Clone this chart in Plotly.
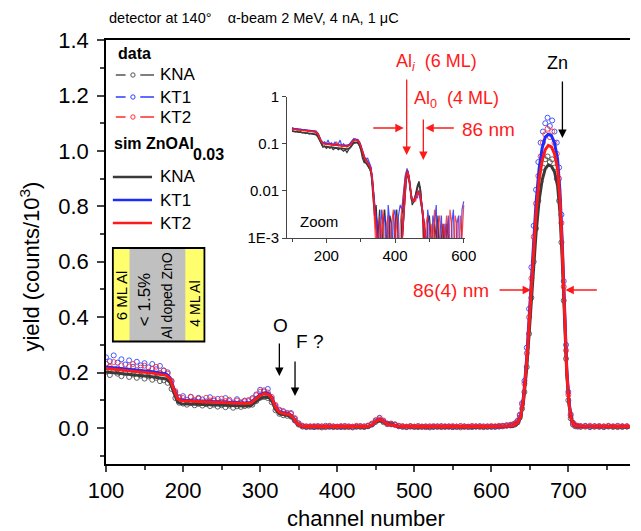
import plotly.graph_objects as go

# ---------------- main spectrum data (channel, yield in counts/10^3) ----------------
channels = [100,105,110,115,120,125,130,135,140,145,150,155,160,165,170,175,180,
            185,190,195,200,205,210,215,220,225,230,235,240,245,250,255,260,265,270,275,
            280,285,290,295,300,305,310,315,320,325,330,335,340,345,350,355,360,
            365,370,375,380,385,390,395,400,405,410,415,420,425,430,435,
            440,445,450,455,460,465,470,475,480,485,
            490,495,500,505,510,515,520,525,530,535,540,545,550,555,560,565,570,575,580,585,590,595,600,
            605,610,615,620,625,
            628,631,634,637,640,643,646,649,652,655,658,661,664,667,670,673,676,679,682,685,688,691,694,697,700,703,706,709,712,
            716,722,728,734,740,746,752,758,764,770,776]

data_KT2 = [0.232,0.221,0.238,0.215,0.226,0.204,0.222,0.231,0.209,0.218,0.225,0.203,0.214,0.221,0.199,0.208,0.196,
            0.171,0.133,0.112,0.108,0.094,0.113,0.101,0.106,0.092,0.109,0.099,0.104,0.090,0.106,0.097,0.102,0.088,0.099,0.093,
            0.096,0.101,0.104,0.118,0.131,0.136,0.128,0.112,0.083,0.066,0.058,0.055,0.051,0.036,0.016,0.008,0.006,
            0.005,0.007,0.004,0.006,0.003,0.008,0.005,0.004,0.007,0.006,0.004,0.005,0.008,0.006,0.005,
            0.009,0.016,0.028,0.035,0.027,0.015,0.014,0.011,0.008,0.006,
            0.005,0.007,0.004,0.006,0.005,0.003,0.006,0.007,0.004,0.005,0.006,0.004,0.007,0.005,0.006,0.004,0.005,0.007,0.006,0.005,0.004,0.006,0.007,
            0.006,0.008,0.007,0.009,0.012,
            0.013,0.016,0.024,0.045,0.085,0.16,0.27,0.40,0.54,0.69,0.81,0.91,0.98,1.03,1.06,1.08,1.05,1.07,1.03,0.99,0.90,0.74,0.51,0.28,0.12,0.045,0.017,0.010,0.008,
            0.007,0.006,0.008,0.005,0.007,0.006,0.008,0.005,0.006,0.007,0.006]

data_KT1 = [0.255,0.241,0.262,0.236,0.248,0.229,0.244,0.221,0.239,0.226,0.234,0.219,0.231,0.212,0.224,0.207,0.201,
            0.168,0.128,0.109,0.115,0.101,0.112,0.098,0.109,0.103,0.096,0.111,0.099,0.105,0.094,0.108,0.097,0.092,0.104,0.091,
            0.099,0.097,0.108,0.121,0.138,0.132,0.141,0.106,0.079,0.063,0.061,0.052,0.054,0.033,0.017,0.007,0.005,
            0.006,0.004,0.007,0.005,0.008,0.004,0.006,0.005,0.003,0.007,0.006,0.004,0.005,0.007,0.006,
            0.008,0.014,0.027,0.037,0.025,0.016,0.013,0.012,0.007,0.006,
            0.004,0.006,0.005,0.007,0.004,0.006,0.005,0.004,0.006,0.007,0.005,0.006,0.004,0.005,0.007,0.006,0.004,0.006,0.005,0.007,0.006,0.005,0.004,
            0.005,0.006,0.008,0.010,0.011,
            0.012,0.017,0.026,0.048,0.09,0.17,0.29,0.43,0.58,0.73,0.86,0.96,1.03,1.07,1.10,1.12,1.09,1.11,1.07,1.03,0.94,0.77,0.53,0.30,0.13,0.05,0.019,0.010,0.007,
            0.006,0.008,0.005,0.007,0.006,0.005,0.007,0.006,0.008,0.005,0.006]

data_KNA = [0.203,0.191,0.208,0.196,0.187,0.199,0.184,0.193,0.181,0.189,0.178,0.186,0.174,0.181,0.169,0.172,0.163,
            0.141,0.108,0.091,0.088,0.084,0.090,0.082,0.087,0.081,0.086,0.079,0.084,0.077,0.082,0.075,0.081,0.073,0.078,0.076,
            0.079,0.081,0.084,0.097,0.109,0.112,0.108,0.093,0.064,0.051,0.046,0.044,0.041,0.027,0.012,0.005,0.003,
            0.004,0.003,0.005,0.002,0.004,0.006,0.003,0.004,0.005,0.003,0.004,0.002,0.005,0.004,0.003,
            0.006,0.012,0.022,0.029,0.021,0.014,0.016,0.013,0.006,0.004,
            0.003,0.005,0.004,0.003,0.005,0.004,0.002,0.004,0.005,0.003,0.004,0.005,0.003,0.004,0.002,0.005,0.004,0.003,0.005,0.004,0.003,0.004,0.005,
            0.004,0.005,0.006,0.008,0.009,
            0.010,0.013,0.020,0.038,0.07,0.13,0.22,0.34,0.47,0.60,0.72,0.82,0.89,0.94,0.97,0.98,0.96,0.97,0.94,0.90,0.82,0.67,0.46,0.25,0.10,0.035,0.012,0.006,0.005,
            0.004,0.005,0.003,0.005,0.004,0.003,0.005,0.004,0.003,0.004,0.005]

# ---------------- simulations ----------------
sim_ch = [100,120,140,160,178,183,188,193,198,220,250,280,288,294,300,306,312,316,320,325,
          332,338,343,348,353,360,440,446,451,456,461,466,470,474,480,490,600,628,634,638,
          642,646,650,654,658,662,666,670,674,678,682,686,689,692,695,698,701,704,708,715,780]
sim_KT2 = [0.215,0.210,0.204,0.198,0.190,0.178,0.140,0.105,0.098,0.096,
           0.092,0.088,0.090,0.104,0.118,0.124,0.120,0.103,0.075,0.057,
           0.051,0.049,0.036,0.016,0.007,0.005,0.005,0.012,0.026,0.031,
           0.022,0.013,0.012,0.010,0.006,0.005,0.005,0.008,0.018,0.040,
           0.110,0.240,0.410,0.600,0.770,0.895,0.965,1.005,1.020,1.015,
           0.990,0.935,0.830,0.650,0.410,0.200,0.085,0.030,0.010,0.006,0.005]
sim_KT1 = [0.220,0.215,0.209,0.203,0.195,0.182,0.143,0.107,0.100,0.098,
           0.094,0.090,0.092,0.107,0.121,0.127,0.123,0.105,0.077,0.059,
           0.053,0.050,0.037,0.016,0.007,0.005,0.005,0.012,0.027,0.032,
           0.023,0.014,0.012,0.010,0.006,0.005,0.005,0.008,0.019,0.042,
           0.118,0.255,0.435,0.635,0.810,0.935,1.010,1.050,1.060,1.055,
           1.030,0.970,0.860,0.675,0.425,0.210,0.090,0.032,0.011,0.006,0.005]
sim_KNA = [0.202,0.197,0.191,0.185,0.177,0.165,0.128,0.093,0.087,0.085,
           0.082,0.079,0.081,0.094,0.106,0.112,0.109,0.093,0.067,0.051,
           0.046,0.044,0.032,0.014,0.006,0.004,0.004,0.011,0.023,0.027,
           0.020,0.014,0.015,0.012,0.005,0.004,0.004,0.007,0.016,0.036,
           0.100,0.215,0.375,0.545,0.700,0.820,0.895,0.935,0.950,0.945,
           0.925,0.875,0.780,0.610,0.385,0.190,0.080,0.028,0.009,0.005,0.004]

# ---------------- inset (log zoom) ----------------
inset_ch = [100,105,110,115,120,125,130,135,140,145,150,155,160,165,170,175,180,185,190,195,
            200,205,210,215,220,225,230,235,240,245,250,255,260,265,270,275,280,285,290,295,
            300,305,310,315,320,325,330,335,340,345,350,355,360,365,370,375,380,385,390,395,
            400,405,410,415,420,425,430,435,440,445,450,455,460,465,470,475,480,485,490,495,
            500,505,510,515,520,525,530,535,540,545,550,555,560,565,570,575,580,585,590,595,600]
inset_KT2 = [0.21,0.20,0.21,0.195,0.205,0.19,0.20,0.19,0.195,0.185,
             0.19,0.18,0.185,0.175,0.18,0.165,0.14,0.11,0.10,0.105,
             0.095,0.10,0.105,0.09,0.10,0.095,0.11,0.09,0.095,0.085,
             0.09,0.095,0.085,0.09,0.10,0.115,0.125,0.12,0.125,0.11,
             0.085,0.06,0.045,0.05,0.04,0.035,0.03,0.012,0.004,0.002,
             0.0001,0.003,0.001,0.004,0.0001,0.002,0.003,0.0001,0.002,0.004,
             0.001,0.003,0.0001,0.002,0.005,0.009,0.02,0.028,0.022,0.011,
             0.006,0.007,0.006,0.009,0.009,0.006,0.003,0.0001,0.002,0.003,
             0.0001,0.002,0.001,0.004,0.0001,0.002,0.003,0.0001,0.002,0.001,
             0.003,0.0001,0.004,0.002,0.0001,0.003,0.002,0.0001,0.003,0.001,
             0.005]
inset_KT1 = [0.22,0.215,0.205,0.21,0.20,0.205,0.195,0.20,0.19,0.195,
             0.185,0.19,0.18,0.185,0.175,0.16,0.13,0.115,0.105,0.11,
             0.10,0.12,0.095,0.105,0.09,0.11,0.095,0.10,0.12,0.09,
             0.10,0.09,0.095,0.095,0.105,0.12,0.13,0.125,0.12,0.105,
             0.09,0.065,0.05,0.045,0.05,0.04,0.032,0.015,0.005,0.003,
             0.002,0.0001,0.004,0.002,0.003,0.0001,0.005,0.002,0.0001,0.003,
             0.004,0.0001,0.003,0.005,0.004,0.01,0.022,0.03,0.02,0.01,
             0.007,0.006,0.008,0.007,0.01,0.005,0.004,0.002,0.0001,0.004,
             0.002,0.0001,0.003,0.002,0.005,0.0001,0.001,0.003,0.0001,0.002,
             0.001,0.003,0.0001,0.002,0.004,0.0001,0.002,0.003,0.0001,0.004,
             0.006]
inset_KNA = [0.19,0.185,0.18,0.185,0.175,0.18,0.17,0.175,0.165,0.17,
             0.16,0.165,0.16,0.155,0.155,0.14,0.115,0.095,0.085,0.09,
             0.08,0.085,0.08,0.085,0.075,0.08,0.08,0.075,0.08,0.075,
             0.07,0.075,0.065,0.075,0.085,0.10,0.11,0.105,0.11,0.095,
             0.075,0.05,0.04,0.04,0.035,0.03,0.025,0.01,0.003,0.005,
             0.001,0.004,0.0001,0.002,0.004,0.001,0.0001,0.003,0.002,0.0001,
             0.002,0.004,0.001,0.0001,0.003,0.006,0.018,0.026,0.02,0.009,
             0.005,0.006,0.009,0.013,0.016,0.01,0.003,0.001,0.0001,0.002,
             0.003,0.001,0.0001,0.002,0.001,0.003,0.0001,0.001,0.002,0.0001,
             0.002,0.001,0.0001,0.001,0.0001,0.001,0.0001,0.001,0.0001,0.001,
             0.0001]
inset_sim_ch = [100,170,176,183,190,260,270,278,285,292,298,305,312,320,328,333,338,342,346,350,
                420,428,432,437,442,448,455,462,468,472,478,484,490,600]
inset_sim_KT2 = [0.205,0.18,0.16,0.12,0.10,0.088,0.095,0.115,0.122,0.118,
                 0.10,0.07,0.048,0.04,0.032,0.02,0.008,0.003,0.0012,0.0008,
                 0.0008,0.006,0.018,0.026,0.016,0.007,0.006,0.008,0.010,0.009,
                 0.005,0.002,0.0008,0.0008]
inset_sim_KT1 = [0.21,0.185,0.165,0.124,0.103,0.09,0.098,0.118,0.125,0.121,
                 0.103,0.072,0.05,0.041,0.033,0.021,0.008,0.003,0.0012,0.0008,
                 0.0008,0.006,0.019,0.027,0.017,0.007,0.006,0.008,0.010,0.009,
                 0.005,0.002,0.0008,0.0008]
inset_sim_KNA = [0.185,0.16,0.143,0.107,0.088,0.077,0.083,0.1,0.107,0.104,
                 0.088,0.062,0.042,0.035,0.028,0.018,0.007,0.0027,0.0011,0.0008,
                 0.0008,0.0055,0.016,0.024,0.015,0.0065,0.006,0.009,0.014,0.012,
                 0.005,0.002,0.0008,0.0008]

for arr in (data_KT2, data_KT1, data_KNA):
    assert len(arr) == len(channels), len(arr)
for arr in (sim_KT2, sim_KT1, sim_KNA):
    assert len(arr) == len(sim_ch), len(arr)
for arr in (inset_KT2, inset_KT1, inset_KNA):
    assert len(arr) == len(inset_ch), len(arr)
for arr in (inset_sim_KT2, inset_sim_KT1, inset_sim_KNA):
    assert len(arr) == len(inset_sim_ch), len(arr)

FONT = "Liberation Sans, Arial, Helvetica, sans-serif"
C_KNA, C_KT1, C_KT2 = "#3a3a3a", "#1a2cff", "#ff1a1a"
C_KNA_D, C_KT1_D, C_KT2_D = "rgba(70,70,70,0.85)", "rgba(40,60,255,0.85)", "rgba(255,40,40,0.85)"

# figure geometry (pixels) for placing annotations
W, H = 641, 531
L, R, T, B = 106, 0, 40, 67
PW, PH = W - L - R, H - T - B


def P(px, py):
    return (px - L) / PW, (H - B - py) / PH


fig = go.Figure()

for y, c in ((data_KNA, C_KNA_D), (data_KT1, C_KT1_D), (data_KT2, C_KT2_D)):
    fig.add_trace(go.Scatter(x=channels, y=y, mode="markers", showlegend=False,
                             marker=dict(symbol="circle-open", size=5, color=c, line=dict(width=1, color=c))))
for y, c in ((sim_KNA, C_KNA), (sim_KT1, C_KT1), (sim_KT2, C_KT2)):
    fig.add_trace(go.Scatter(x=sim_ch, y=y, mode="lines", showlegend=False,
                             line=dict(color=c, width=3)))

for y, c in ((inset_KNA, "rgba(30,30,30,0.9)"), (inset_KT1, "rgba(30,50,255,0.85)"), (inset_KT2, "rgba(255,30,30,0.8)")):
    fig.add_trace(go.Scatter(x=inset_ch, y=y, mode="lines", showlegend=False, xaxis="x2", yaxis="y2",
                             line=dict(color=c, width=1.2)))
for y, c in ((inset_sim_KNA, C_KNA), (inset_sim_KT1, C_KT1), (inset_sim_KT2, C_KT2)):
    fig.add_trace(go.Scatter(x=inset_sim_ch, y=y, mode="lines", showlegend=False, xaxis="x2", yaxis="y2",
                             line=dict(color=c, width=1.6)))

ann = []


def text(px, py, s, size, color="black", xanchor="center", angle=0):
    x, y = P(px, py)
    ann.append(dict(xref="paper", yref="paper", x=x, y=y, text=s, showarrow=False,
                    xanchor=xanchor, yanchor="middle", textangle=angle,
                    font=dict(family=FONT, size=size, color=color)))


def arrow(tip, tail, color):
    x, y = P(*tip)
    ann.append(dict(xref="paper", yref="paper", x=x, y=y, text="", showarrow=True,
                    ax=tail[0] - tip[0], ay=tail[1] - tip[1], arrowhead=2, arrowsize=1.3,
                    arrowwidth=1.3, arrowcolor=color, standoff=0, startstandoff=0))


NB = "\u00a0"
text(107, 18, "detector at 140°" + NB * 4 + "α-beam 2 MeV, 4 nA, 1 μC", 14.5, xanchor="left")
text(28, 267, "yield (counts/10<sup>3</sup>)", 22, angle=-90)
text(371, 518, "channel number", 22)

# legend (drawn manually)
text(116, 53, "<b>data</b>", 16, xanchor="left")
for py, lab in ((75, "KNA"), (97, "KT1"), (117, "KT2")):
    text(159, py, lab, 17, xanchor="left")
text(112, 143, "<b>sim ZnOAl</b>", 16, xanchor="left")
text(193, 154, "<b>0.03</b>", 16, xanchor="left")
for py, lab in ((177, "KNA"), (200, "KT1"), (223, "KT2")):
    text(159, py, lab, 17, xanchor="left")

# annotations in red
text(400, 62, "Al<sub><i>i</i></sub>" + NB * 2 + "(6 ML)", 18, color="#ff1a1a", xanchor="left")
text(418, 99, "Al<sub>0</sub>" + NB * 2 + "(4 ML)", 18, color="#ff1a1a", xanchor="left")
text(467, 129, "86 nm", 19, color="#ff1a1a", xanchor="left")
text(417, 290, "86(4) nm", 19, color="#ff1a1a", xanchor="left")
arrow((413, 155), (413, 78), "#ff1a1a")
arrow((430, 160), (430, 118), "#ff1a1a")
arrow((410, 128), (378, 128), "#ff1a1a")
arrow((432, 128), (462, 128), "#ff1a1a")
arrow((540, 290), (507, 290), "#ff1a1a")
arrow((575, 290), (608, 290), "#ff1a1a")

# element markers
text(567, 63, "Zn", 18)
arrow((572, 138), (572, 80), "black")
text(284, 325, "O", 19)
arrow((283, 376), (283, 342), "black")
text(298, 341, "F ?", 19, xanchor="left")
arrow((299, 396), (299, 360), "black")
text(302, 222, "Zoom", 15, xanchor="left")

# schematic of the layer stack (rotated labels)
text(121.5, 296, "6 ML Al", 15, angle=-90)
text(145, 300, "&lt; 1.5%", 17, angle=-90)
text(168, 296, "Al doped ZnO", 14, angle=-90)
text(196.5, 304, "4 ML Al", 14, angle=-90)

shapes = []


def rect(x0, y0, x1, y1, fill, lw=0, lc="black"):
    a, b = P(x0, y1)
    c, d = P(x1, y0)
    shapes.append(dict(type="rect", xref="paper", yref="paper", x0=a, y0=b, x1=c, y1=d,
                       fillcolor=fill, line=dict(width=lw, color=lc), layer="below"))


def seg(x0, y0, x1, y1, color, width, dash="solid"):
    a, b = P(x0, y0)
    c, d = P(x1, y1)
    shapes.append(dict(type="line", xref="paper", yref="paper", x0=a, y0=b, x1=c, y1=d,
                       line=dict(color=color, width=width, dash=dash)))


def circ(cx, cy, r, color):
    a, b = P(cx - r, cy + r)
    c, d = P(cx + r, cy - r)
    shapes.append(dict(type="circle", xref="paper", yref="paper", x0=a, y0=b, x1=c, y1=d,
                       line=dict(color=color, width=1)))


rect(113, 248, 206.5, 341.5, "#c0c0c0")
rect(113, 248, 130, 341.5, "#ffff6e")
rect(187, 248, 206.5, 341.5, "#ffff6e")
rect(113, 248, 206.5, 341.5, "rgba(0,0,0,0)", lw=1.8)
shapes[-1]["layer"] = "above"

for py, c in ((75, "#555555"), (97, "#2a3cff"), (117, "#ff2a2a")):
    seg(116, py, 126, py, c, 1.5)
    seg(141, py, 155, py, c, 1.5)
    circ(133.5, py, 2.2, c)
for py, c in ((177, C_KNA), (200, C_KT1), (223, C_KT2)):
    seg(113, py, 153, py, c, 2.5)

fig.update_layout(
    width=W, height=H, margin=dict(l=L, r=R, t=T, b=B),
    paper_bgcolor="white", plot_bgcolor="white",
    font=dict(family=FONT, size=22, color="black"),
    showlegend=False,
    annotations=ann, shapes=shapes,
    xaxis=dict(domain=[0, 1], range=[100, 780], tick0=100, dtick=100, ticks="outside", ticklen=6,
               tickwidth=1.5, showline=True, linewidth=1.5, linecolor="black", mirror=True,
               showgrid=False, zeroline=False, tickfont=dict(size=22),
               minor=dict(ticks="outside", ticklen=4, tickwidth=1.5, dtick=50, tick0=100, showgrid=False)),
    yaxis=dict(domain=[0, 1], range=[-0.13, 1.4005], tick0=0, dtick=0.2, tickformat=".1f",
               ticks="outside", ticklen=7, tickwidth=1.5, showline=True, linewidth=1.5,
               linecolor="black", showgrid=False, zeroline=False, tickfont=dict(size=22),
               ticklabelstandoff=4,
               minor=dict(ticks="outside", ticklen=4, tickwidth=1.5, dtick=0.1, tick0=0, showgrid=False)),
    xaxis2=dict(domain=[(291 - L) / PW, (473 - L) / PW], anchor="y2", range=[86, 605],
                tick0=0, dtick=200, ticks="outside", ticklen=4, tickwidth=1, showline=True,
                linewidth=1, linecolor="#444", showgrid=False, zeroline=False,
                tickfont=dict(size=15),
                minor=dict(ticks="outside", ticklen=2.5, dtick=100, tick0=0, showgrid=False)),
    yaxis2=dict(domain=[(H - B - 238) / PH, (H - B - 96.7) / PH], anchor="x2", type="log",
                range=[-3, 0], tickvals=[0.001, 0.01, 0.1, 1], ticktext=["1E-3", "0.01", "0.1", "1"],
                ticks="outside", ticklen=4, tickwidth=1, showline=True, linewidth=1, linecolor="#444",
                showgrid=False, zeroline=False, tickfont=dict(size=15)),
)

fig.write_html("out.html")
